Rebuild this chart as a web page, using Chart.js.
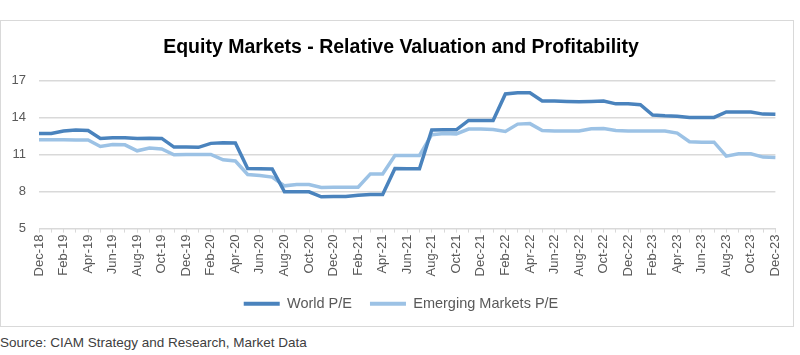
<!DOCTYPE html>
<html>
<head>
<meta charset="utf-8">
<script src="https://cdn.jsdelivr.net/npm/chart.js@4"></script>
<style>
  html, body { margin: 0; padding: 0; background: #ffffff; }
  body { width: 800px; height: 355px; position: relative; overflow: hidden; font-family: "Liberation Sans", Arial, sans-serif; }
  #frame { position: absolute; left: 0; top: 20px; width: 792px; height: 305px; border: 1px solid #d9d9d9; }
  #wrap { position: absolute; left: 0; top: 0; width: 792px; height: 305px; }
  #source { position: absolute; left: 0; top: 335px; font-size: 13.5px; color: #404040; }
</style>
</head>
<body>
<div id="frame"><div id="wrap"><canvas id="c"></canvas></div></div>
<div id="source">Source: CIAM Strategy and Research, Market Data</div>
<script>
const months = ["Dec-18","Jan-19","Feb-19","Mar-19","Apr-19","May-19","Jun-19","Jul-19","Aug-19","Sep-19","Oct-19","Nov-19",
"Dec-19","Jan-20","Feb-20","Mar-20","Apr-20","May-20","Jun-20","Jul-20","Aug-20","Sep-20","Oct-20","Nov-20",
"Dec-20","Jan-21","Feb-21","Mar-21","Apr-21","May-21","Jun-21","Jul-21","Aug-21","Sep-21","Oct-21","Nov-21",
"Dec-21","Jan-22","Feb-22","Mar-22","Apr-22","May-22","Jun-22","Jul-22","Aug-22","Sep-22","Oct-22","Nov-22",
"Dec-22","Jan-23","Feb-23","Mar-23","Apr-23","May-23","Jun-23","Jul-23","Aug-23","Sep-23","Oct-23","Nov-23","Dec-23"];

const worldPE = [12.7,12.7,12.9,12.98,12.95,12.3,12.35,12.35,12.3,12.32,12.3,11.6,
11.6,11.58,11.9,11.95,11.93,9.87,9.85,9.83,7.98,7.98,7.98,7.57,
7.6,7.6,7.7,7.76,7.76,9.87,9.85,9.85,12.98,13.0,13.0,13.76,
13.76,13.76,15.9,16.0,16.0,15.33,15.33,15.3,15.28,15.3,15.33,15.1,
15.1,15.03,14.2,14.13,14.1,14.0,14.0,14.0,14.44,14.44,14.44,14.27,14.25];

const emPE = [12.2,12.2,12.2,12.18,12.18,11.65,11.8,11.78,11.3,11.52,11.45,10.98,
11.0,11.0,11.0,10.57,10.47,9.38,9.3,9.17,8.46,8.57,8.57,8.33,
8.35,8.35,8.35,9.43,9.43,10.92,10.92,10.92,12.6,12.7,12.67,13.06,
13.06,13.03,12.87,13.46,13.5,12.95,12.9,12.9,12.9,13.08,13.1,12.95,
12.9,12.9,12.9,12.9,12.73,12.03,12.0,12.0,10.87,11.06,11.06,10.79,10.75];

const seriesNames = ["World P/E", "Emerging Markets P/E"];
const yTicks = [5, 8, 11, 14, 17];
const titleText = "Equity Markets - Relative Valuation and Profitability";

const worldColor = "#4a83bd";
const emColor = "#9cc2e5";
const textColor = "#595959";
const gridColor = "#d9d9d9";
const fam = "'Liberation Sans', Arial, sans-serif";

new Chart(document.getElementById("c"), {
  type: "line",
  data: {
    labels: months,
    datasets: [
      { label: seriesNames[0], data: worldPE, borderColor: worldColor, backgroundColor: worldColor, borderWidth: 3.5, pointRadius: 0, tension: 0, fill: false },
      { label: seriesNames[1], data: emPE, borderColor: emColor, backgroundColor: emColor, borderWidth: 3.5, pointRadius: 0, tension: 0, fill: false }
    ]
  },
  options: {
    responsive: true,
    maintainAspectRatio: false,
    animation: false,
    layout: { padding: { left: 8, right: 0, top: 0, bottom: 5 } },
    plugins: {
      title: {
        display: true, text: titleText, color: "#000000",
        font: { family: fam, size: 19.5, weight: "bold" },
        padding: { top: 15, bottom: 21 }
      },
      legend: {
        position: "bottom",
        labels: {
          color: textColor,
          font: { family: fam, size: 14.5 },
          boxWidth: 36, boxHeight: 4, padding: 18,
          generateLabels(chart) {
            return chart.data.datasets.map((ds, i) => ({
              text: ds.label, fillStyle: ds.borderColor, strokeStyle: ds.borderColor,
              lineWidth: 0, hidden: false, datasetIndex: i, fontColor: textColor
            }));
          }
        }
      },
      tooltip: { enabled: false }
    },
    scales: {
      x: {
        offset: false,
        grid: { display: true, drawOnChartArea: false, drawTicks: true, tickLength: 4, color: gridColor },
        border: { display: true, color: gridColor, width: 1 },
        ticks: {
          autoSkip: false, maxRotation: 90, minRotation: 90, color: textColor, padding: 2,
          font: { family: fam, size: 13 },
          callback(v, i) { return i % 2 === 0 ? months[i] : ""; }
        }
      },
      y: {
        min: yTicks[0], max: yTicks[yTicks.length - 1],
        afterBuildTicks(scale) { scale.ticks = yTicks.map(v => ({ value: v })); },
        afterFit(scale) { scale.width = 30; },
        grid: { color: gridColor, lineWidth: 1.5, drawTicks: false },
        border: { display: false },
        ticks: {
          color: textColor, padding: 13,
          font: { family: fam, size: 13 }
        }
      },
      yRight: {
        position: "right",
        display: true,
        min: yTicks[0], max: yTicks[yTicks.length - 1],
        grid: { display: false, drawTicks: false },
        border: { display: false },
        ticks: { display: false },
        afterFit(scale) { scale.width = 12; }
      }
    }
  }
});
</script>
</body>
</html>
